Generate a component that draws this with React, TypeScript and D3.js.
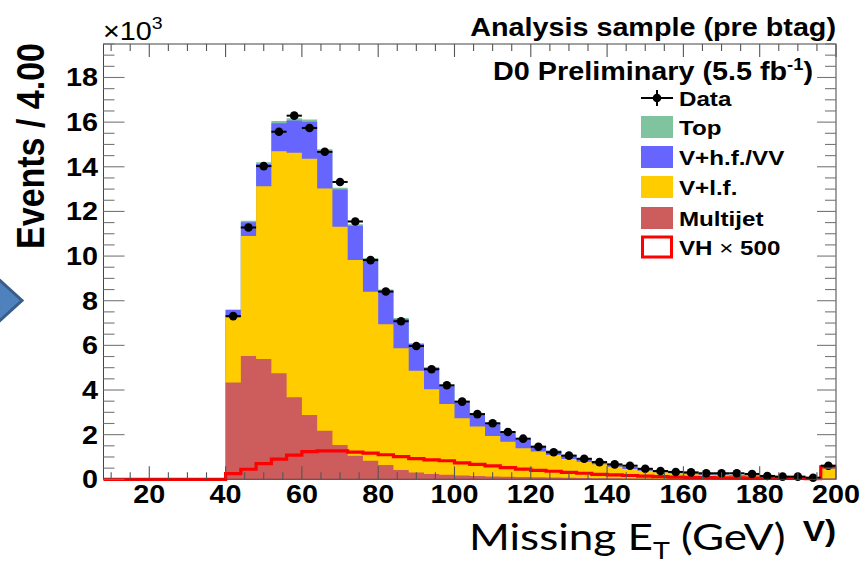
import React from 'react';
import * as d3 from 'd3';

// Bin low edges (GeV), bin width 4 GeV, range 8–200
const binLow = [8, 12, 16, 20, 24, 28, 32, 36, 40, 44, 48, 52, 56, 60, 64, 68, 72, 76, 80, 84, 88, 92, 96, 100,
  104, 108, 112, 116, 120, 124, 128, 132, 136, 140, 144, 148, 152, 156, 160, 164, 168, 172, 176, 180, 184, 188, 192, 196];
const xMin = 8;
const xMax = 200;

// Values in units of 10^3 events / 4 GeV
const multijet = [0, 0, 0, 0, 0, 0, 0, 0,
  4.34, 5.52, 5.39, 4.75, 3.67, 2.88, 2.18, 1.54, 1.06, 0.83, 0.64, 0.42, 0.31, 0.24, 0.2, 0.17, 0.15, 0.13, 0.11, 0.1,
  0.09, 0.08, 0.07, 0.06, 0.05, 0.05, 0.04, 0.04, 0.03, 0.03, 0.03, 0.02, 0.02, 0.02, 0.02, 0.02, 0.01, 0.01, 0.01, 0.04];
const vlf = [0, 0, 0, 0, 0, 0, 0, 0,
  2.91, 5.38, 7.74, 9.95, 10.96, 11.48, 10.85, 9.77, 8.76, 7.57, 6.31, 5.45, 4.55, 3.79, 3.17, 2.56, 2.21, 1.81, 1.57, 1.29,
  1.15, 1.01, 0.84, 0.73, 0.62, 0.51, 0.42, 0.34, 0.29, 0.24, 0.2, 0.18, 0.16, 0.14, 0.12, 0.1, 0.09, 0.08, 0.07, 0.46];
const vhf = [0, 0, 0, 0, 0, 0, 0, 0,
  0.33, 0.62, 0.99, 1.25, 1.44, 1.66, 1.67, 1.67, 1.54, 1.45, 1.5, 1.31, 1.2, 0.96, 0.8, 0.74, 0.58, 0.56, 0.44, 0.39,
  0.24, 0.19, 0.18, 0.15, 0.12, 0.11, 0.09, 0.07, 0.06, 0.06, 0.05, 0.05, 0.04, 0.03, 0.03, 0.03, 0.03, 0.02, 0.02, 0.11];
const top = [0, 0, 0, 0, 0, 0, 0, 0,
  0.03, 0.06, 0.08, 0.1, 0.1, 0.1, 0.09, 0.08, 0.07, 0.06, 0.05, 0.05, 0.04, 0.04, 0.03, 0.03, 0.03, 0.02, 0.02, 0.02,
  0.02, 0.01, 0.01, 0.01, 0.01, 0.01, 0.01, 0.01, 0.01, 0.01, 0.01, 0.01, 0.01, 0.01, 0.01, 0.01, 0.01, 0.01, 0.01, 0.01];
const vh500 = [0, 0, 0, 0, 0, 0, 0, 0,
  0.25, 0.45, 0.7, 0.9, 1.08, 1.24, 1.27, 1.27, 1.22, 1.17, 1.1, 1.02, 0.93, 0.87, 0.83, 0.74, 0.67, 0.6, 0.52, 0.46,
  0.4, 0.36, 0.31, 0.27, 0.22, 0.2, 0.17, 0.14, 0.12, 0.1, 0.09, 0.08, 0.07, 0.06, 0.05, 0.05, 0.04, 0.04, 0.03, 0.56];
const dataVals = [0, 0, 0, 0, 0, 0, 0, 0,
  7.31, 11.28, 14.03, 15.57, 16.29, 15.74, 14.67, 13.32, 11.55, 9.82, 8.41, 7.08, 5.97, 4.93, 4.21, 3.48, 2.92, 2.51, 2.12, 1.82,
  1.46, 1.21, 1.06, 0.92, 0.77, 0.67, 0.61, 0.47, 0.37, 0.33, 0.31, 0.27, 0.27, 0.27, 0.24, 0.15, 0.12, 0.12, 0.07, 0.61];

const xTickLabels = [20, 40, 60, 80, 100, 120, 140, 160, 180, 200];
const yTickLabels = [0, 2, 4, 6, 8, 10, 12, 14, 16, 18];
const yMax = 19.5;

const legendLabels = ['Data', 'Top', 'V+h.f./VV', 'V+l.f.', 'Multijet', 'VH'];
const colors = {
  top: '#7fc49f',
  vhf: '#6666ff',
  vlf: '#ffcc00',
  multijet: '#cd5c5c',
  vh: '#ff0000',
};

const ROOT_FONT = '"Liberation Sans", Arial, Helvetica, sans-serif';
const SX = 1.15; // horizontal stretch of the pasted ROOT image

function RText(props: any) {
  const { x, y, size, anchor = 'start', weight = 'bold', rotate = 0, children, fill = '#000' } = props;
  return (
    <text
      transform={`translate(${x},${y}) scale(${SX},1)${rotate ? ` rotate(${rotate})` : ''}`}
      fontFamily={ROOT_FONT}
      fontSize={size}
      fontWeight={weight}
      textAnchor={anchor}
      fill={fill}
    >
      {children}
    </text>
  );
}

export default function App() {
  const W = 862;
  const H = 573;
  const m = { l: 103.5, r: 836, t: 44, b: 479.3 };
  const x = d3.scaleLinear().domain([xMin, xMax]).range([m.l, m.r]);
  const y = d3.scaleLinear().domain([0, yMax]).range([m.b, m.t]);

  const cum1 = multijet.map((v) => v);
  const cum2 = cum1.map((v, i) => v + vlf[i]);
  const cum3 = cum2.map((v, i) => v + vhf[i]);
  const cum4 = cum3.map((v, i) => v + top[i]);

  const pts = (vals: number[]) => {
    const p = binLow.map((b, i) => [b, vals[i]] as [number, number]);
    p.push([xMax, vals[vals.length - 1]]);
    return p;
  };
  const area = d3
    .area<[number, number]>()
    .x((d) => x(d[0]))
    .y0(y(0))
    .y1((d) => y(d[1]))
    .curve(d3.curveStepAfter);
  const line = d3
    .line<[number, number]>()
    .x((d) => x(d[0]))
    .y((d) => y(d[1]))
    .curve(d3.curveStepAfter);

  const xMinor = d3.range(10, 200.01, 5);
  const yMinor = d3.range(0, yMax + 0.01, 0.5);

  const legX = 641;
  const legW = 32;
  const legTextX = 679;
  const legRows = [98, 127, 157, 187, 218, 247];
  const legFill = [null, colors.top, colors.vhf, colors.vlf, colors.multijet, null];

  return (
    <svg
      width={W}
      height={H}
      viewBox={`0 0 ${W} ${H}`}
      style={{ position: 'absolute', left: 0, top: 0, background: '#fff' }}
    >
      <rect x={0} y={0} width={W} height={H} fill="#fff" />

      {/* slide arrow */}
      <polygon points="-6,275 22,300.5 -6,326" fill="#4f81bd" stroke="#385d8a" strokeWidth={3} />

      {/* stacked histograms, ROOT style: cumulative, drawn largest first */}
      <path d={area(pts(cum4)) || ''} fill={colors.top} />
      <path d={area(pts(cum3)) || ''} fill={colors.vhf} />
      <path d={area(pts(cum2)) || ''} fill={colors.vlf} />
      <path d={area(pts(cum1)) || ''} fill={colors.multijet} />

      {/* VH x 500 */}
      <path d={line(pts(vh500)) || ''} fill="none" stroke={colors.vh} strokeWidth={3.2} />

      {/* data */}
      {dataVals.map((v, i) =>
        v > 0 ? (
          <g key={`d${i}`}>
            <line x1={x(binLow[i])} x2={x(binLow[i] + 4)} y1={y(v)} y2={y(v)} stroke="#000" strokeWidth={2} />
            <circle cx={x(binLow[i] + 2)} cy={y(v)} r={4.3} fill="#000" />
          </g>
        ) : null
      )}

      {/* frame */}
      <rect x={m.l} y={m.t} width={m.r - m.l} height={m.b - m.t} fill="none" stroke="#444" strokeWidth={1} />

      {/* x ticks */}
      {xMinor.map((v) => {
        const major = v % 20 === 0;
        const len = major ? 13 : 7;
        return (
          <g key={`xt${v}`} stroke="#555" strokeWidth={1.1}>
            <line x1={x(v)} x2={x(v)} y1={m.b} y2={m.b - len} />
            <line x1={x(v)} x2={x(v)} y1={m.t} y2={m.t + len} />
          </g>
        );
      })}
      {/* y ticks */}
      {yMinor.map((v) => {
        const major = Math.abs(v % 2) < 1e-6;
        const lenL = major ? 21 : 11;
        const lenR = major ? 19 : 11;
        return (
          <g key={`yt${v}`} stroke="#777" strokeWidth={1.1}>
            <line x1={m.l} x2={m.l + lenL} y1={y(v)} y2={y(v)} />
            <line x1={m.r} x2={m.r - lenR} y1={y(v)} y2={y(v)} />
          </g>
        );
      })}

      {/* x tick labels */}
      {xTickLabels.map((v) => (
        <RText key={`xl${v}`} x={x(v)} y={503} size={25} anchor="middle">
          {v}
        </RText>
      ))}
      {/* y tick labels */}
      {yTickLabels.map((v) => (
        <RText key={`yl${v}`} x={98} y={y(v) + 9} size={25} anchor="end">
          {v}
        </RText>
      ))}

      {/* exponent */}
      <RText x={103} y={40} size={25} weight="normal">
        ×10<tspan dy={-11} fontSize={17}>3</tspan>
      </RText>

      {/* y title */}
      <RText x={44} y={43} size={34} anchor="end" rotate={-90}>
        Events / 4.00
      </RText>

      {/* titles */}
      <RText x={836} y={36} size={25} anchor="end">
        Analysis sample (pre btag)
      </RText>
      <RText x={813} y={80} size={25} anchor="end">
        D0 Preliminary (5.5 fb<tspan dy={-10} fontSize={16}>-1</tspan>
        <tspan dy={10}>)</tspan>
      </RText>

      {/* legend */}
      {legendLabels.map((lab, i) => {
        const cy = legRows[i];
        return (
          <g key={`lg${i}`}>
            {i === 0 ? (
              <g>
                <line x1={legX} x2={legX + legW} y1={cy} y2={cy} stroke="#000" strokeWidth={2} />
                <line x1={legX + legW / 2} x2={legX + legW / 2} y1={cy - 8} y2={cy + 8} stroke="#000" strokeWidth={2} />
                <circle cx={legX + legW / 2} cy={cy} r={4.3} fill="#000" />
              </g>
            ) : i === 5 ? (
              <rect x={legX + 1.5} y={cy - 10} width={legW - 3} height={20} fill="#fff" stroke={colors.vh} strokeWidth={3} />
            ) : (
              <rect x={legX} y={cy - 11} width={legW} height={22} fill={legFill[i] as string} />
            )}
            <RText x={legTextX} y={cy + 8} size={21}>
              {lab}
              {i === 5 ? (
                <>
                  <tspan fontWeight="normal"> × </tspan>500
                </>
              ) : null}
            </RText>
          </g>
        );
      })}

      {/* remains of the ROOT x-axis title, partly covered by the slide text box */}
      <RText x={836} y={541} size={29} anchor="end">
        V)
      </RText>

      {/* slide text */}
      <text
        transform="translate(469,550) scale(1.19,1)"
        fontFamily="Lato, 'Open Sans', sans-serif"
        fontSize={37}
        fill="#000"
      >
        Missing E<tspan dy={9} fontSize={24}>T</tspan>
        <tspan dy={-9}> (GeV)</tspan>
      </text>
    </svg>
  );
}
